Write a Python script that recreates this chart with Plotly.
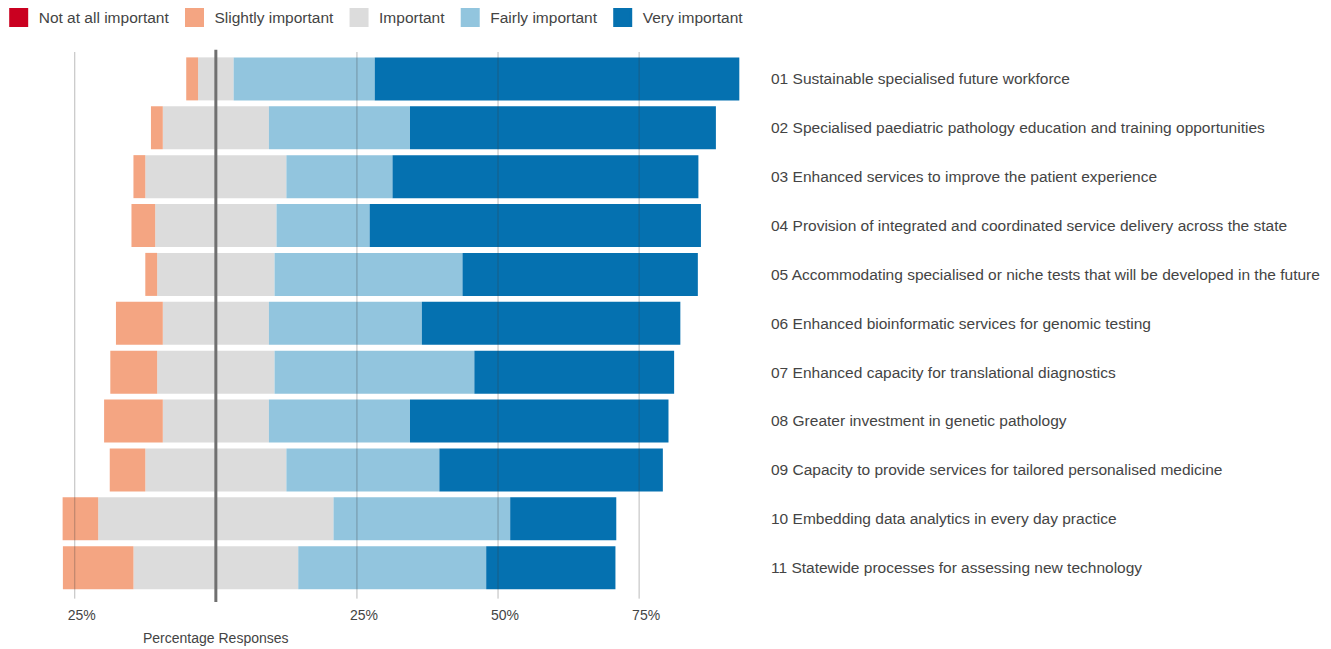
import plotly.graph_objects as go

categories = [
    "01 Sustainable specialised future workforce",
    "02 Specialised paediatric pathology education and training opportunities",
    "03 Enhanced services to improve the patient experience",
    "04 Provision of integrated and coordinated service delivery across the state",
    "05 Accommodating specialised or niche tests that will be developed in the future",
    "06 Enhanced bioinformatic services for genomic testing",
    "07 Enhanced capacity for translational diagnostics",
    "08 Greater investment in genetic pathology",
    "09 Capacity to provide services for tailored personalised medicine",
    "10 Embedding data analytics in every day practice",
    "11 Statewide processes for assessing new technology",
]

not_at_all = [0, 0, 0, 0, 0, 0, 0, 0, 0, 0, 0]
slightly = [2.1, 2.1, 2.1, 4.2, 2.1, 8.3, 8.3, 10.4, 6.3, 6.3, 12.5]
important = [6.3, 18.8, 25.0, 21.5, 20.8, 18.8, 20.8, 18.8, 25.0, 41.7, 29.2]
fairly = [25.0, 25.0, 18.8, 16.5, 33.3, 27.1, 35.4, 25.0, 27.1, 31.3, 33.3]
very = [64.6, 54.2, 54.2, 58.7, 41.7, 45.8, 35.4, 45.8, 39.6, 18.8, 22.9]

tick_vals = [-25, 25, 50, 75]
tick_text = ["25%", "25%", "50%", "75%"]

series_names = ["Not at all important", "Slightly important", "Important",
                "Fairly important", "Very important"]
colors = ["#CA0020", "#F4A582", "#DCDCDC", "#92C5DE", "#0571B0"]

FONT = "Liberation Sans, Arial, sans-serif"
TXT = "#444444"
BW = 0.88

fig = go.Figure()

imp_half = [v / 2 for v in important]
# negative side (stacked from zero outward in trace order)
fig.add_trace(go.Bar(y=categories, x=[-v for v in imp_half], orientation="h",
                     marker=dict(color=colors[2], line=dict(width=0)), width=BW,
                     showlegend=False, hoverinfo="skip"))
fig.add_trace(go.Bar(y=categories, x=[-v for v in slightly], orientation="h",
                     marker=dict(color=colors[1], line=dict(width=0)), width=BW,
                     showlegend=False))
fig.add_trace(go.Bar(y=categories, x=[-v for v in not_at_all], orientation="h",
                     marker=dict(color=colors[0], line=dict(width=0)), width=BW,
                     showlegend=False))
# positive side
fig.add_trace(go.Bar(y=categories, x=imp_half, orientation="h",
                     marker=dict(color=colors[2], line=dict(width=0)), width=BW,
                     showlegend=False))
fig.add_trace(go.Bar(y=categories, x=fairly, orientation="h",
                     marker=dict(color=colors[3], line=dict(width=0)), width=BW,
                     showlegend=False))
fig.add_trace(go.Bar(y=categories, x=very, orientation="h",
                     marker=dict(color=colors[4], line=dict(width=0)), width=BW,
                     showlegend=False))

# legend entries
for name, col in zip(series_names, colors):
    fig.add_trace(go.Scatter(x=[None], y=[None], mode="markers", name=name,
                             marker=dict(symbol="square", size=16, color=col,
                                         line=dict(color=col, width=3))))

# gridlines drawn above bars
for v in tick_vals:
    fig.add_shape(type="line", xref="x", yref="paper", x0=v, x1=v, y0=-0.003, y1=1.0,
                  line=dict(color="rgba(60,60,60,0.35)", width=1), layer="above")
fig.add_shape(type="line", xref="x", yref="paper", x0=0, x1=0, y0=-0.009, y1=1.004,
              line=dict(color="#707070", width=3), layer="above")

fig.add_annotation(x=0, xref="x", y=-0.075, yref="paper", text="Percentage Responses",
                   showarrow=False, font=dict(family=FONT, size=14, color=TXT),
                   xanchor="center", yanchor="middle")

fig.update_layout(
    width=1331, height=649,
    barmode="relative",
    plot_bgcolor="white", paper_bgcolor="white",
    margin=dict(l=55, r=566, t=52, b=52, autoexpand=False),
    font=dict(family=FONT, size=15.5, color=TXT),
    legend=dict(orientation="h", x=-0.0793, y=1.0939, xref="paper", yref="paper",
                xanchor="left", yanchor="top", font=dict(size=15.5, color=TXT),
                itemsizing="trace"),
    xaxis=dict(range=[-28.5, 97.3], tickvals=tick_vals, ticktext=tick_text,
               showgrid=False, zeroline=False, showline=False, ticks="",
               tickfont=dict(size=14, color=TXT), ticklabelshift=7,
               ticklabelstandoff=8),
    yaxis=dict(side="right", range=[10.6, -0.55], showgrid=False, zeroline=False,
               showline=False, ticks="", tickfont=dict(size=15.5, color=TXT),
               ticklabelstandoff=5),
)

fig.write_html("out.html")
